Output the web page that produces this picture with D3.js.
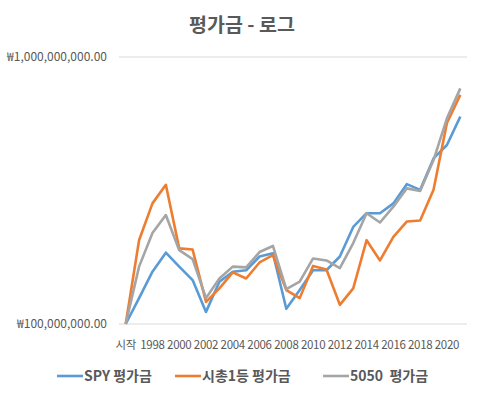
<!DOCTYPE html>
<html>
<head>
<meta charset="utf-8">
<script src="https://cdn.jsdelivr.net/npm/d3@7"></script>
<style>
  body { margin: 0; background: #fff; }
  text { font-family: "Noto Sans CJK KR", "Noto Sans", sans-serif; }
</style>
</head>
<body>
<script>
const categories = ["시작", "1997", "1998", "1999", "2000", "2001", "2002", "2003", "2004", "2005",
  "2006", "2007", "2008", "2009", "2010", "2011", "2012", "2013", "2014", "2015",
  "2016", "2017", "2018", "2019", "2020", "2021"];

// values in 억 원 (x 1e8)
const spyValues = [1.00, 1.25, 1.57, 1.85, 1.64, 1.46, 1.11, 1.44, 1.57, 1.59,
  1.79, 1.84, 1.14, 1.34, 1.59, 1.59, 1.79, 2.31, 2.60, 2.60,
  2.83, 3.34, 3.18, 4.17, 4.68, 5.98];
const topValues = [1.00, 2.06, 2.83, 3.32, 1.92, 1.90, 1.21, 1.36, 1.56, 1.48,
  1.70, 1.81, 1.34, 1.25, 1.65, 1.60, 1.18, 1.36, 2.06, 1.73,
  2.12, 2.42, 2.44, 3.18, 5.66, 7.21];
const mixValues = [1.00, 1.64, 2.19, 2.56, 1.89, 1.75, 1.25, 1.48, 1.64, 1.63,
  1.86, 1.96, 1.35, 1.44, 1.76, 1.73, 1.62, 2.01, 2.60, 2.40,
  2.75, 3.22, 3.15, 4.11, 5.89, 7.63];

const seriesNames = ["SPY 평가금", "시총1등 평가금", "5050  평가금"];
const seriesColors = ["#5B9BD5", "#ED7D31", "#A5A5A5"];
const yTicks = [1e8, 1e9];

const series = [spyValues, topValues, mixValues].map((vals, i) => ({
  name: seriesNames[i],
  color: seriesColors[i],
  values: vals.map((v, j) => ({ cat: categories[j], v: v * 1e8 }))
}));

const width = 484, height = 398;
const svg = d3.select("body").append("svg")
  .attr("width", width)
  .attr("height", height);

const x = d3.scaleBand().domain(categories).range([119, 467]);
const y = d3.scaleLog().domain([1e8, 1e9]).range([324, 57]);

const fmt = v => "₩" + d3.format(",.2f")(v);

// gridlines
svg.append("g")
  .selectAll("line")
  .data(yTicks)
  .join("line")
  .attr("x1", 119)
  .attr("x2", 467)
  .attr("y1", d => y(d))
  .attr("y2", d => y(d))
  .attr("stroke", "#d9d9d9")
  .attr("stroke-width", 1);

// y labels
svg.append("g")
  .selectAll("text")
  .data(yTicks)
  .join("text")
  .attr("x", 107)
  .attr("y", d => y(d))
  .attr("dy", "0.35em")
  .attr("text-anchor", "end")
  .attr("font-size", 12)
  .attr("fill", "#595959")
  .text(fmt);

// x labels, every second category
const xAxis = d3.axisBottom(x)
  .tickValues(categories.filter((d, i) => i % 2 === 0))
  .tickSize(0)
  .tickPadding(9);

const gx = svg.append("g")
  .attr("transform", "translate(0,332)")
  .call(xAxis);
gx.select(".domain").remove();
gx.selectAll("text")
  .attr("font-size", 11.5)
  .attr("letter-spacing", "-0.3px")
  .attr("fill", "#595959")
  .attr("font-family", "\"Noto Sans CJK KR\", sans-serif");

const line = d3.line()
  .x(d => x(d.cat) + x.bandwidth() / 2)
  .y(d => y(d.v));

svg.append("g")
  .selectAll("path")
  .data(series)
  .join("path")
  .attr("d", d => line(d.values))
  .attr("fill", "none")
  .attr("stroke", d => d.color)
  .attr("stroke-width", 2.6)
  .attr("stroke-linejoin", "round");

// title
svg.append("text")
  .attr("x", 242)
  .attr("y", 32)
  .attr("text-anchor", "middle")
  .attr("font-size", 19.5)
  .attr("font-weight", "bold")
  .attr("fill", "#595959")
  .text("평가금 - 로그");

// legend
const legendX = [57, 175, 323];
const legend = svg.append("g")
  .selectAll("g")
  .data(series)
  .join("g")
  .attr("transform", (d, i) => `translate(${legendX[i]},376)`);

legend.append("line")
  .attr("x1", 0)
  .attr("x2", 26)
  .attr("stroke", d => d.color)
  .attr("stroke-width", 2.6);

legend.append("text")
  .attr("x", 27)
  .attr("dy", "0.35em")
  .attr("font-size", 14)
  .attr("font-weight", "bold")
  .attr("fill", "#595959")
  .style("white-space", "pre")
  .text(d => d.name);
</script>
</body>
</html>
